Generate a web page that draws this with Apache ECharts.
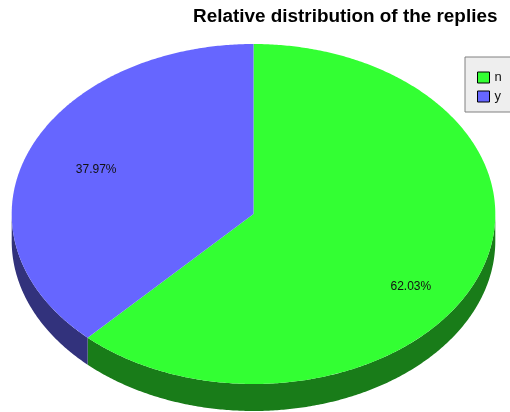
<!DOCTYPE html>
<html>
<head>
<meta charset="utf-8">
<script src="https://cdn.jsdelivr.net/npm/echarts@6/dist/echarts.min.js"></script>
<style>
  html, body { margin: 0; padding: 0; background: #ffffff; }
  #chart { width: 510px; height: 412px; }
</style>
</head>
<body>
<div id="chart"></div>
<script>
// Reply categories and their share of all replies (percent)
const categories = ['n', 'y'];
const shares = [62.03, 37.97];
const titleText = 'Relative distribution of the replies';

// Face colours and the darker tone used for the pie's rim
const topColors = ['#33ff33', '#6666ff'];
const sideColors = ['#197c19', '#32327c'];

// Elliptical 3D pie geometry
const CX = 253.5, CY = 214, RX = 241.8, RY = 170, DEPTH = 27;

const total = shares.reduce((a, b) => a + b, 0);

// Point on the rim; angle measured clockwise from 12 o'clock
function rimPoint(deg, dy) {
  const r = deg * Math.PI / 180;
  return [CX + RX * Math.sin(r), CY - RY * Math.cos(r) + (dy || 0)];
}

function rimArc(a, b, dy) {
  const pts = [];
  const n = Math.max(2, Math.ceil((b - a) / 0.5));
  for (let i = 0; i <= n; i++) pts.push(rimPoint(a + (b - a) * i / n, dy));
  return pts;
}

function renderSlice(params, api) {
  const idx = params.seriesIndex;
  const value = api.value(0);
  let start = 0;
  for (let k = 0; k < idx; k++) start += shares[k] / total * 360;
  const end = start + value / total * 360;
  const children = [];

  // Visible rim: only the front half (90°..270°) of the ellipse
  const s0 = Math.max(start, 90), s1 = Math.min(end, 270);
  if (s1 > s0) {
    const upper = rimArc(s0, s1, 0);
    const lower = rimArc(s0, s1, DEPTH).reverse();
    children.push({
      type: 'polygon',
      shape: { points: upper.concat(lower) },
      style: { fill: sideColors[idx] },
      z2: 1
    });
  }

  // Top face
  children.push({
    type: 'polygon',
    shape: { points: [[CX, CY]].concat(rimArc(start, end, 0)) },
    style: { fill: api.visual('color') },
    z2: 5
  });

  // Percentage label at the slice's mid angle
  const mid = (start + end) / 2 * Math.PI / 180;
  const lx = CX + 0.70 * RX * Math.sin(mid);
  const ly = CY + 14 - 0.93 * RY * Math.cos(mid);
  children.push({
    type: 'text',
    x: lx, y: ly,
    style: {
      text: (value / total * 100).toFixed(2) + '%',
      fill: '#111111',
      font: '12px "Liberation Sans", Arial, sans-serif',
      align: 'center',
      verticalAlign: 'middle'
    },
    z2: 10
  });

  return { type: 'group', children: children };
}

const chart = echarts.init(document.getElementById('chart'), null, { renderer: 'canvas' });

chart.setOption({
  animation: false,
  backgroundColor: '#ffffff',
  title: {
    text: titleText,
    left: 193,
    top: 7,
    padding: 0,
    textStyle: {
      fontFamily: '"Liberation Sans", Arial, sans-serif',
      fontWeight: 'bold',
      fontSize: 18.9,
      color: '#000000'
    }
  },
  legend: {
    orient: 'vertical',
    left: 465,
    top: 57,
    padding: [14, 22, 9, 12],
    backgroundColor: '#eeeeee',
    borderColor: '#808080',
    borderWidth: 1,
    borderRadius: 0,
    itemWidth: 12,
    itemHeight: 11,
    itemGap: 6,
    icon: 'rect',
    itemStyle: { borderColor: '#000000', borderWidth: 1 },
    textStyle: {
      fontFamily: '"Liberation Sans", Arial, sans-serif',
      fontSize: 13,
      color: '#111111',
      padding: [0, 0, 0, 0]
    },
    data: categories
  },
  series: categories.map((name, i) => ({
    type: 'custom',
    name: name,
    coordinateSystem: 'none',
    itemStyle: { color: topColors[i] },
    renderItem: renderSlice,
    data: [[shares[i]]]
  }))
});
</script>
</body>
</html>
